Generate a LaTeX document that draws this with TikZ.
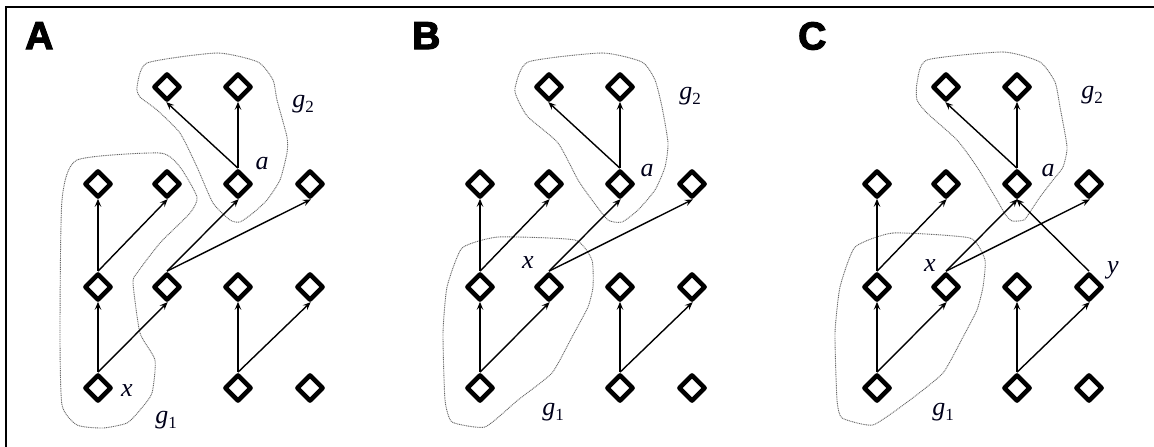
\documentclass[tikz,border=0pt]{standalone}
\usepackage{fontspec}
\setmainfont{Liberation Serif}
\newfontfamily\panelfont[BoldFeatures={FakeBold=3}]{Liberation Sans}
\usetikzlibrary{shapes.geometric,arrows.meta}
\newcommand\gsub[1]{g\raisebox{-5pt}{\fontsize{17}{18}\selectfont\upshape #1}}
\tikzset{
  vtx/.style={draw, diamond, aspect=1, minimum size=27pt, inner sep=0pt, line width=4.6pt, line join=round},
  arr/.style={line width=1.4pt, shorten >=-1pt, -{Stealth[length=8pt,width=6.5pt,inset=3pt]}},
  hull/.style={draw=black!60, line width=0.9pt, dash pattern=on 1pt off 0.8pt},
  lbl/.style={inner sep=0pt, text=black!90!blue, font=\fontsize{26}{28}\selectfont\itshape},
  ptitle/.style={inner sep=0pt, anchor=north west, font=\fontsize{39}{40}\selectfont\panelfont\bfseries},
  frame/.style={line width=2.5pt}
}
\newcommand\mkpanel[2]{%
\begin{scope}[xshift=#2pt]
  \node[vtx] (#1-1-2) at (167,87) {};
  \node[vtx] (#1-1-3) at (238,87) {};
  \node[vtx] (#1-2-1) at (98,184) {};
  \node[vtx] (#1-2-2) at (167,184) {};
  \node[vtx] (#1-2-3) at (238,184) {};
  \node[vtx] (#1-2-4) at (310,184) {};
  \node[vtx] (#1-3-1) at (98,287) {};
  \node[vtx] (#1-3-2) at (167,287) {};
  \node[vtx] (#1-3-3) at (238,287) {};
  \node[vtx] (#1-3-4) at (310,287) {};
  \node[vtx] (#1-4-1) at (98,388) {};
  \node[vtx] (#1-4-3) at (238,388) {};
  \node[vtx] (#1-4-4) at (310,388) {};
  \foreach \s/\t in {4-1/3-1, 4-1/3-2, 3-1/2-1, 3-1/2-2, 3-2/2-3, 3-2/2-4, 2-3/1-2, 2-3/1-3, 4-3/3-3, 4-3/3-4}
    \draw[arr] (#1-\s.north) -- (#1-\t.south);
\end{scope}}
\begin{document}
\begin{tikzpicture}[x=1pt,y=-1pt]
  \useasboundingbox (0,0) rectangle (1154,447);
  \draw[frame] (6,447) -- (6,7) -- (1154,7);

  % panel A
  \node[ptitle] (tA) at (25,22) {A};
  \draw[hull] plot[smooth cycle, tension=0.35] coordinates {(77,160) (160,153) (180,167) (197,197) (190,213) (160,243) (137,273) (133,283) (140,333) (155,360) (152,393) (140,410) (127,423) (103,428) (77,425) (62,405) (60,333) (62,200)};
  \draw[hull] plot[smooth cycle, tension=0.35] coordinates {(147,63) (217,53) (258,62) (273,80) (277,100) (287,137) (287,153) (280,180) (267,200) (253,213) (240,222) (230,220) (213,203) (197,167) (180,133) (157,110) (140,97) (137,87)};
  \mkpanel{A}{0}
  \node[lbl] (A-x) at (127,391) {x};
  \node[lbl] (A-a) at (262,164) {a};
  \node[lbl] (A-g2) at (303,104) {\gsub{2}};
  \node[lbl] (A-g1) at (166,420) {\gsub{1}};

  % panel B
  \node[ptitle] (tB) at (412,22) {B};
  \draw[hull] plot[smooth cycle, tension=0.35] coordinates {(528,62) (602,53) (642,62) (655,80) (662,107) (668,143) (665,167) (655,190) (638,210) (622,222) (608,220) (592,200) (578,180) (558,143) (528,117) (518,100) (515,88)};
  \draw[hull] plot[smooth cycle, tension=0.3] coordinates {(462,248) (498,237) (575,240) (592,260) (593,287) (588,307) (572,337) (552,373) (518,400) (485,427) (452,422) (445,400) (443,333) (447,287)};
  \mkpanel{B}{382}
  \node[lbl] (B-x) at (528,263) {x};
  \node[lbl] (B-a) at (647,171) {a};
  \node[lbl] (B-g2) at (690,96) {\gsub{2}};
  \node[lbl] (B-g1) at (553,412) {\gsub{1}};

  % panel C
  \node[ptitle] (tC) at (798,22) {C};
  \draw[hull] plot[smooth cycle, tension=0.35] coordinates {(927,60) (1003,52) (1040,62) (1055,82) (1060,107) (1067,147) (1063,167) (1053,180) (1040,197) (1030,212) (1024,220) (1012,221) (1005,214) (997,200) (977,167) (957,140) (927,113) (917,100) (917,83)};
  \draw[hull] plot[smooth cycle, tension=0.3] coordinates {(855,247) (893,233) (970,238) (985,260) (983,287) (977,310) (963,337) (943,373) (910,400) (873,425) (842,418) (837,400) (835,333) (840,287)};
  \mkpanel{C}{779}
  \draw[arr] (C-3-4.north) -- (C-2-3.south);
  \node[lbl] (C-x) at (930,266) {x};
  \node[lbl] (C-a) at (1048,171) {a};
  \node[lbl] (C-y) at (1113,270) {y};
  \node[lbl] (C-g2) at (1092,95) {\gsub{2}};
  \node[lbl] (C-g1) at (943,412) {\gsub{1}};
\end{tikzpicture}
\end{document}
